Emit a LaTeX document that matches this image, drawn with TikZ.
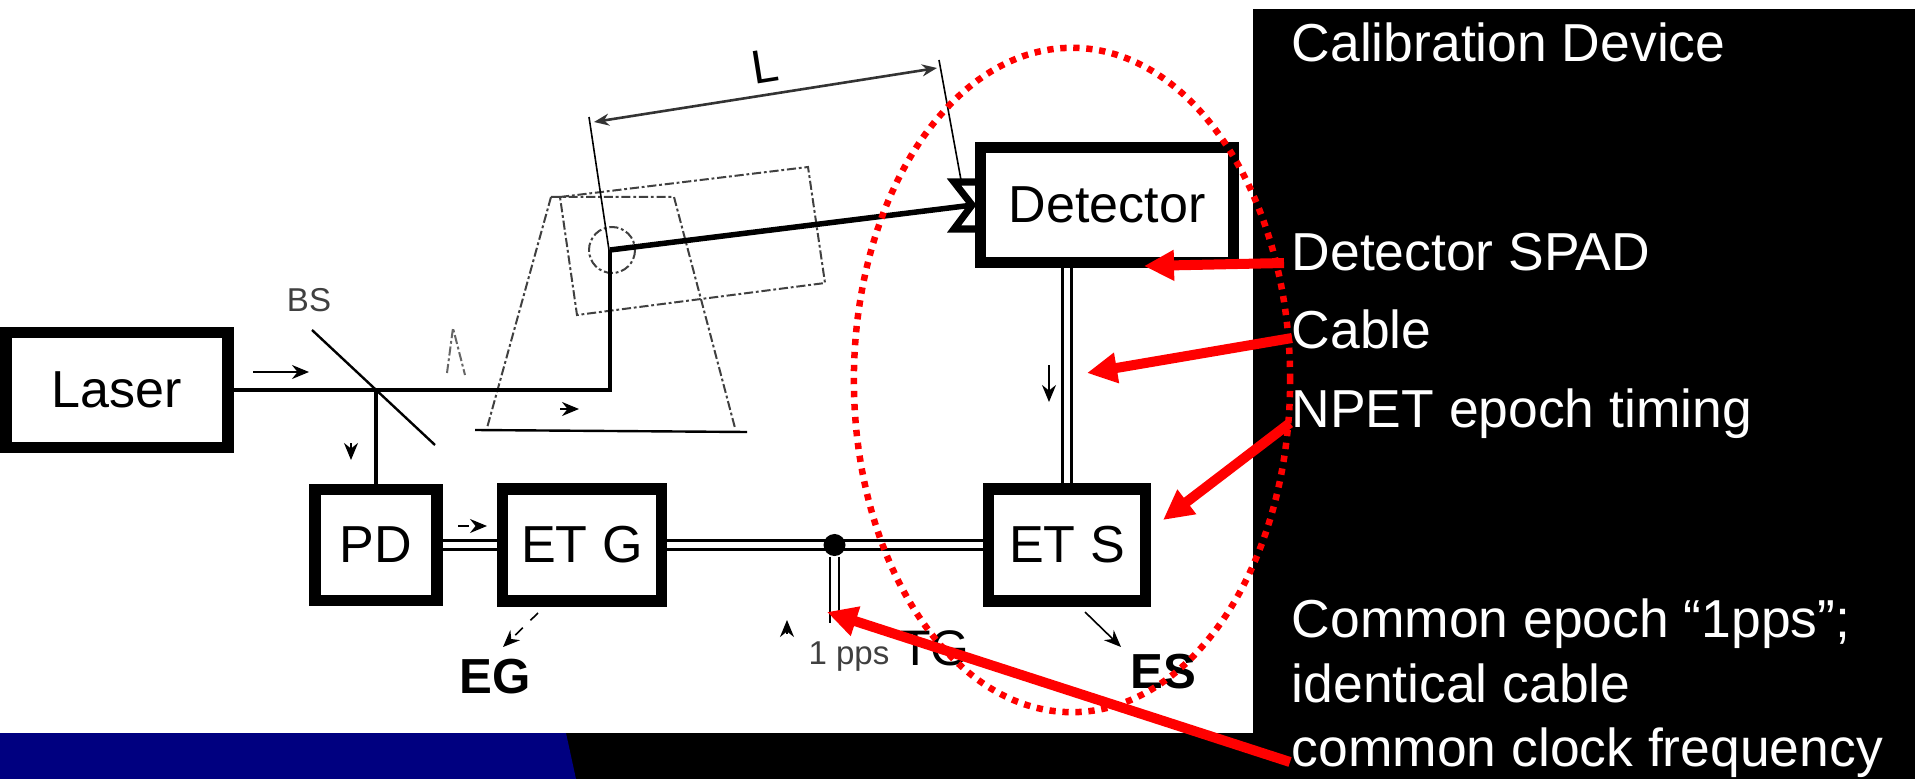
\documentclass[tikz,border=0pt]{standalone}
\usepackage{fontspec}
\setmainfont{Liberation Sans}
\usetikzlibrary{arrows.meta,shapes.geometric}
\definecolor{bandblue}{RGB}{0,0,128}
\tikzset{
    box/.style={draw, line width=0.115cm, inner sep=0pt, font=\fontsize{14.8}{16}\selectfont},
    beam/.style={line width=0.035cm},
    cable/.style={double, draw=black, double=white, line width=0.024cm, double distance=0.065cm},
    tip/.style={-{Stealth[length=0.17cm,width=0.14cm]}, line width=0.016cm},
    frame/.style={draw=black!75, line width=0.02cm, dash pattern=on 2.6pt off 0.8pt on 0.8pt off 0.8pt},
    pointer/.style={draw=red, line width=0.1cm, -{Triangle[length=0.3cm,width=0.29cm]}},
    panel/.style={anchor=base west, inner sep=0pt, text=white, font=\fontsize{15.2}{17}\selectfont},
    big/.style={inner sep=0pt, font=\fontsize{14.2}{16}\selectfont},
    small/.style={inner sep=0pt, text=black!75, font=\fontsize{9.4}{11}\selectfont}
}
\begin{document}
\begin{tikzpicture}[x=0.01cm, y=-0.01cm]

    \useasboundingbox (0,0) rectangle (1915,779);
    \fill [white] (0,0) rectangle (1915,779);
    \fill [black] (1253,9) rectangle (1915,779);
    \fill [black] (0,733) rectangle (1915,779);
    \fill [bandblue] (0,733) -- (566,733) -- (576,779) -- (0,779) -- cycle;

    \draw [frame] (551,197) -- (674,197) -- (735,428);
    \draw [frame] (551,197) -- (487,428);
    \draw [frame] (560,197) -- (808,167) -- (825,283) -- (577,315) -- cycle;
    \draw [frame] (612,250) circle [radius=23];
    \draw [frame, draw=black!60] (447,373) -- (453,328) -- (465,375);
    \draw [line width=0.024cm] (475,430) -- (747,432);

    \node [box, minimum width=2.22cm, minimum height=1.15cm] (laser) at (117,390) {Laser};
    \node [box, minimum width=2.53cm, minimum height=1.15cm] (detector) at (1107,205) {Detector};
    \node [box, minimum width=1.22cm, minimum height=1.11cm] (pd) at (376,545) {PD};
    \node [box, minimum width=1.59cm, minimum height=1.12cm] (etg) at (582,545) {ET G};
    \node [box, minimum width=1.57cm, minimum height=1.12cm] (ets) at (1067,545) {ET S};

    \coordinate (split) at (376,390);
    \coordinate (mirror) at (610,390);
    \coordinate (pivot) at (610,250);
    \coordinate (notch) at (973,205);
    \coordinate (ppsend) at (834.5,623);

    \draw [beam] (laser.east) -- (split) -- (mirror) -- (pivot);
    \draw [beam] (split) -- (pd.north);
    \draw [line width=0.055cm] (pivot) -- (notch);
    \draw [line width=0.07cm] (975,182) -- (954,182) -- (972,205) -- (954,229) -- (975,229);
    \draw [line width=0.024cm] (312,330) -- (435,445);

    \draw [cable] (pd.east) -- (etg.west);
    \draw [cable] (etg.east) -- (ets.west);
    \draw [cable] (detector.south -| ets.north) -- (ets.north);
    \node [circle, fill=black, inner sep=0pt, minimum size=0.22cm] (tap) at (834.5,545) {};
    \draw [cable] (tap.south) -- (ppsend);

    \draw [line width=0.016cm] (589,117) -- (609,250);
    \draw [line width=0.016cm] (939,60) -- (961,180);
    \draw [{Stealth[length=0.15cm,width=0.12cm]}-{Stealth[length=0.15cm,width=0.12cm]}, line width=0.026cm, draw=black!80] (594,122) -- (937,68);

    \draw [tip] (253,372) -- (309,372);
    \draw [tip] (351,443) -- (351,460);
    \draw [tip] (560,409) -- (579,409);
    \draw [tip, dashed] (458,526) -- (487,526);
    \draw [tip, dashed] (538,613) -- (503,647);
    \draw [tip] (1085,612) -- (1121,647);
    \draw [tip] (1049,365) -- (1049,402);
    \draw [tip] (787,634) -- (787,620);

    \node [small] (bs) at (309,300) {BS};
    \node [small] (pps) at (849,657) {1 pps};
    \node [big, font=\fontsize{13.5}{16}\selectfont, rotate=9] (len) at (765,66) {L};
    \node [big, font=\bfseries\fontsize{14}{16}\selectfont] (eg) at (495,677) {EG};
    \node [big, font=\bfseries\fontsize{14}{16}\selectfont] (es) at (1163,672) {ES};
    \node [big] (tg) at (935,648) {TG};

    \node [panel] (title) at (1291,62) {Calibration Device};
    \node [panel] (spad) at (1291,271) {Detector SPAD};
    \node [panel] (cablelabel) at (1291,348) {Cable};
    \node [panel] (npet) at (1291,427) {NPET epoch timing};
    \node [panel] (epoch) at (1291,637) {Common epoch “1pps”;};
    \node [panel] (identical) at (1291,702) {identical cable};
    \node [panel] (clock) at (1291,766) {common clock frequency};

    \node [draw=red, ellipse, inner sep=0pt, minimum width=4.36cm, minimum height=6.64cm, line width=0.065cm, dash pattern=on 1.8pt off 1.9pt] (calib) at (1072,380) {};

    \coordinate (spadfrom) at (1284,263);
    \coordinate (spadto) at (1144,266);
    \coordinate (cablefrom) at (1292,338);
    \coordinate (cableto) at (1087,373);
    \coordinate (npetfrom) at (1290,423);
    \coordinate (npetto) at (1163,520);
    \coordinate (clockfrom) at (1290,762);
    \coordinate (clockto) at (827,612);

    \draw [pointer] (spadfrom) -- (spadto);
    \draw [pointer] (cablefrom) -- (cableto);
    \draw [pointer] (npetfrom) -- (npetto);
    \draw [pointer] (clockfrom) -- (clockto);

\end{tikzpicture}
\end{document}
